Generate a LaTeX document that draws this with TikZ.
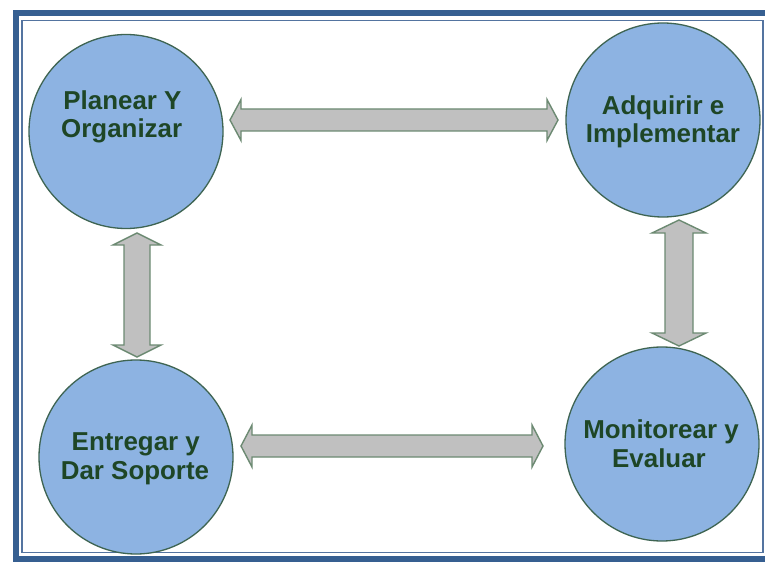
\documentclass[tikz,border=0pt]{standalone}
\usepackage{fontspec}
\setmainfont{Liberation Sans}

\definecolor{framedark}{RGB}{54,95,145}
\definecolor{frameline}{RGB}{84,116,160}
\definecolor{circfill}{RGB}{141,179,226}
\definecolor{circedge}{RGB}{62,100,82}
\definecolor{arrowfill}{RGB}{192,192,192}
\definecolor{arrowedge}{RGB}{108,138,114}
\definecolor{labelgreen}{RGB}{30,70,38}

\tikzset{
  phase/.style={circle, draw=circedge, line width=1.3bp, fill=circfill,
                minimum size=194bp, inner sep=0pt},
  phasetext/.style={anchor=base, inner sep=0pt, text=labelgreen,
                    font=\fontsize{26}{28}\selectfont\bfseries},
  blockarrow/.style={draw=arrowedge, line width=1.4bp, fill=arrowfill, line join=miter}
}

% horizontal double block arrow: {y}{x tip left}{x tip right}{half shaft}{half head}{head length}
\newcommand\hblockarrow[6]{%
  \path[blockarrow] (#2,#1) -- (#2+#6,#1-#5) -- (#2+#6,#1-#4) -- (#3-#6,#1-#4)
    -- (#3-#6,#1-#5) -- (#3,#1) -- (#3-#6,#1+#5) -- (#3-#6,#1+#4)
    -- (#2+#6,#1+#4) -- (#2+#6,#1+#5) -- cycle;}
% vertical double block arrow: {x}{y tip top}{y tip bottom}{half shaft}{half head}{head length}
\newcommand\vblockarrow[6]{%
  \path[blockarrow] (#1,#2) -- (#1+#5,#2+#6) -- (#1+#4,#2+#6) -- (#1+#4,#3-#6)
    -- (#1+#5,#3-#6) -- (#1,#3) -- (#1-#5,#3-#6) -- (#1-#4,#3-#6)
    -- (#1-#4,#2+#6) -- (#1-#5,#2+#6) -- cycle;}

\begin{document}
\begin{tikzpicture}[x=1bp, y=-1bp]
  \useasboundingbox (0,0) rectangle (765,563);
  \fill[white] (0,0) rectangle (765,563);

  % page frame: heavy outer rule (open to the right) and thin inner rule
  \draw[framedark, line width=6bp, line join=miter]
    (765,13) -- (15.5,13) -- (15.5,558.5) -- (765,558.5);
  \draw[frameline, line width=1.2bp] (22,20.3) rectangle (763,552.3);

  % the four process domains
  \node[phase] (po) at (126,131.5) {};
  \node[phase] (ai) at (663,120) {};
  \node[phase] (ds) at (136,457) {};
  \node[phase] (me) at (662,444) {};

  \node[phasetext] (po1) at (122.5,110)   {Planear Y};
  \node[phasetext] (po2) at (121.7,137.3) {Organizar};
  \node[phasetext] (ai1) at (663,115)     {Adquirir e};
  \node[phasetext] (ai2) at (663,142.7)   {Implementar};
  \node[phasetext] (ds1) at (135.8,450)   {Entregar y};
  \node[phasetext] (ds2) at (135,479.3)   {Dar Soporte};
  \node[phasetext] (me1) at (661,438.3)   {Monitorear y};
  \node[phasetext] (me2) at (659,467.7)   {Evaluar};

  % two-way block arrows between the domains
  \hblockarrow{120}{230}{558}{11}{20.5}{11}
  \hblockarrow{446}{241}{543}{11}{21}{11}
  \vblockarrow{137}{233}{357}{13}{24}{12}
  \vblockarrow{679}{220}{346}{14}{27}{13}
\end{tikzpicture}
\end{document}
